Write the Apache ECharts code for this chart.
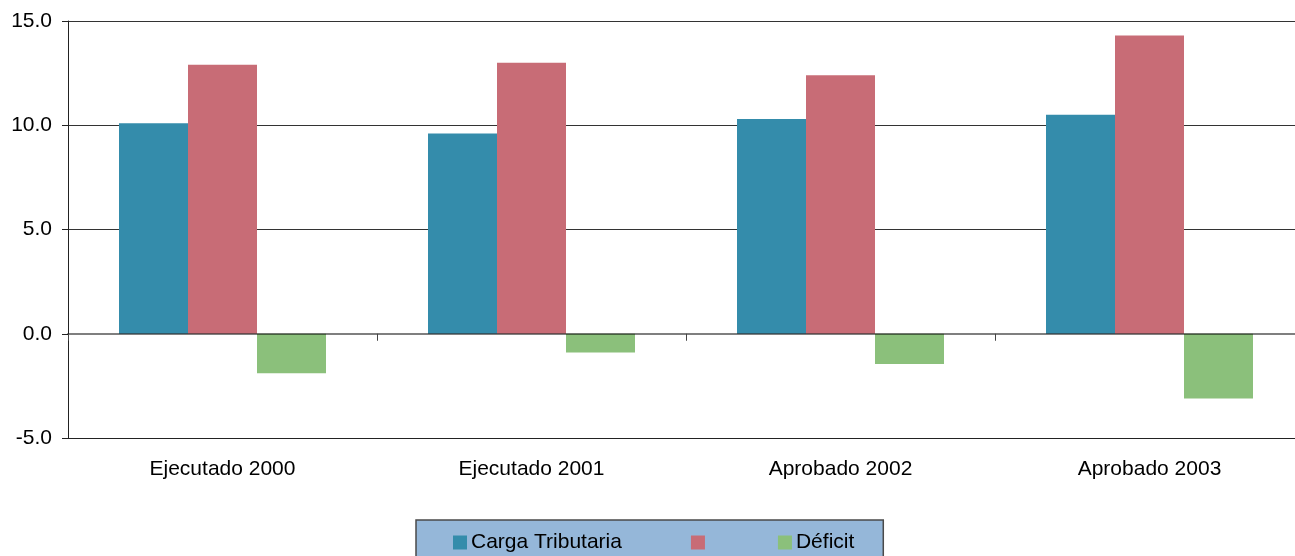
<!DOCTYPE html>
<html>
<head>
<meta charset="utf-8">
<script src="https://cdn.jsdelivr.net/npm/echarts@6/dist/echarts.min.js"></script>
<style>
html,body{margin:0;padding:0;background:#fff;}
#c{width:1295px;height:556px;}
</style>
</head>
<body>
<div id="c"></div>
<script>
const categories = ['Ejecutado 2000', 'Ejecutado 2001', 'Aprobado 2002', 'Aprobado 2003'];
const cargaTributaria = [10.1, 9.6, 10.3, 10.5];
const gasto = [12.9, 13.0, 12.4, 14.3];
const deficit = [-1.9, -0.9, -1.45, -3.1];
const seriesNames = ['Carga Tributaria', '\u200B', 'Déficit'];
const yTicks = { min: -5, max: 15, interval: 5 };

const font = 'Arial, "Liberation Sans", sans-serif';
const chart = echarts.init(document.getElementById('c'), null, { renderer: 'canvas' });

chart.setOption({
  animation: false,
  backgroundColor: '#ffffff',
  grid: { left: 68, top: 21, width: 1236, height: 417, containLabel: false, outerBoundsMode: 'none' },
  legend: {
    data: seriesNames,
    left: 416,
    top: 520,
    orient: 'horizontal',
    icon: 'rect',
    itemWidth: 14,
    itemHeight: 14,
    itemGap: 69,
    padding: [12, 29, 30, 37],
    backgroundColor: '#95B7D9',
    borderColor: '#4a4a4a',
    borderWidth: 1.5,
    textStyle: { color: '#000', fontSize: 21, fontFamily: font, padding: [0, 0, 0, -1] }
  },
  xAxis: [
    {
      type: 'category',
      data: categories,
      position: 'bottom',
      axisLine: { show: true, onZero: false, lineStyle: { color: '#222', width: 1 } },
      axisTick: { show: false },
      axisLabel: { color: '#000', fontSize: 21, fontFamily: font, margin: 21 },
      splitLine: { show: false }
    },
    {
      type: 'category',
      data: categories,
      position: 'bottom',
      z: 5,
      axisLine: { show: true, onZero: true, lineStyle: { color: 'rgba(0,0,0,0.5)', width: 2 } },
      axisTick: { show: true, inside: false, length: 7, lineStyle: { color: '#444', width: 1 } },
      axisLabel: { show: false },
      splitLine: { show: false }
    }
  ],
  yAxis: {
    type: 'value',
    min: yTicks.min,
    max: yTicks.max,
    interval: yTicks.interval,
    axisLine: { show: true, lineStyle: { color: '#222', width: 1 } },
    axisTick: { show: true, inside: false, length: 6, lineStyle: { color: '#222' } },
    axisLabel: {
      color: '#000', fontSize: 21, fontFamily: font, margin: 16,
      formatter: v => v.toFixed(1)
    },
    splitLine: { show: true, lineStyle: { color: ['#333', 'rgba(0,0,0,0)', '#333', '#333', '#333'], width: 1 } }
  },
  series: [
    { name: seriesNames[0], type: 'bar', data: cargaTributaria, barWidth: 69, barGap: '0%',
      itemStyle: { color: '#348CAB' } },
    { name: seriesNames[1], type: 'bar', data: gasto, barWidth: 69, barGap: '0%',
      itemStyle: { color: '#C86C76' } },
    { name: seriesNames[2], type: 'bar', data: deficit, barWidth: 69, barGap: '0%',
      itemStyle: { color: '#8BC07B' } }
  ]
});
</script>
</body>
</html>
